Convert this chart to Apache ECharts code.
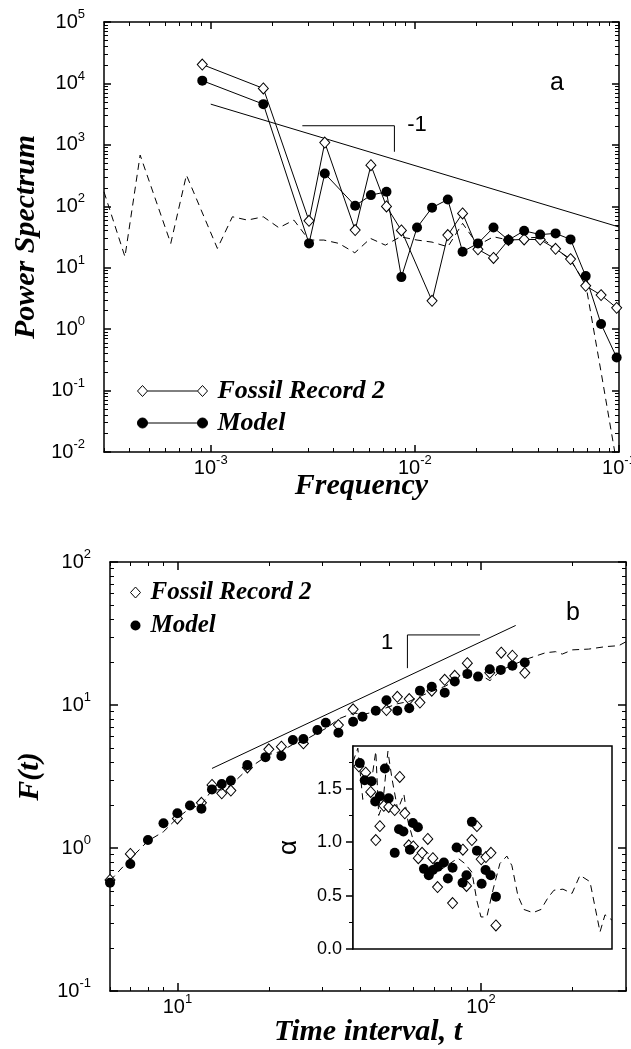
<!DOCTYPE html>
<html lang="en">
<head>
<meta charset="UTF-8">
<title>Power spectrum and F(t)</title>
<style>
    * {
        margin: 0;
        padding: 0;
        box-sizing: border-box;
    }

    html,
    body {
        background: #fff;
    }

    #chart {
        width: 631px;
        height: 1049px;
    }
</style>
</head>
<body>
<div id="chart"></div>
<script src="https://cdn.jsdelivr.net/npm/echarts@6/dist/echarts.min.js"></script>
<script>
    // ---- panel a : power spectrum ----
    const freqA = [9.09e-4, 1.81e-3, 3.03e-3, 3.62e-3, 5.10e-3, 6.09e-3, 7.26e-3, 8.59e-3, 1.025e-2, 1.214e-2, 1.45e-2,
        1.713e-2, 2.037e-2, 2.428e-2, 2.875e-2, 3.43e-2, 4.11e-2, 4.89e-2, 5.79e-2, 6.87e-2, 8.17e-2, 9.74e-2];
    const modelPower = [1.11e4, 4.6e3, 24.9, 341, 102, 152, 172, 7.03, 45, 95, 129,
        18.2, 24.9, 45, 28.2, 39.9, 34.6, 36.2, 28.9, 7.3, 1.21, 0.346];
    const fossilFreqA = [9.09e-4, 1.81e-3, 3.03e-3, 3.62e-3, 5.10e-3, 6.09e-3, 7.26e-3, 8.59e-3, 1.214e-2, 1.45e-2,
        1.713e-2, 2.037e-2, 2.428e-2, 2.875e-2, 3.43e-2, 4.11e-2, 4.89e-2, 5.79e-2, 6.87e-2, 8.17e-2, 9.74e-2];
    const fossilPower = [2.03e4, 8.3e3, 58, 1090, 41, 466, 99.6, 40.5, 2.89, 34,
        76.6, 19.9, 14.4, 28.2, 28.9, 28.7, 20.3, 13.8, 5.07, 3.58, 2.22];
    const dashFreqA = [3.0e-4, 3.80e-4, 4.51e-4, 6.37e-4, 7.60e-4, 1.078e-3, 1.277e-3, 1.512e-3, 1.81e-3, 2.158e-3,
        2.555e-3, 3.03e-3, 3.58e-3, 4.24e-3, 5.08e-3, 6.06e-3, 7.17e-3, 8.49e-3, 1.025e-2, 1.214e-2, 1.45e-2,
        1.713e-2, 2.037e-2, 2.428e-2, 2.875e-2, 3.43e-2, 4.11e-2, 4.89e-2, 5.79e-2, 6.87e-2, 8.17e-2, 9.74e-2];
    const dashPowerA = [172, 15.1, 682, 24.9, 322, 20.6, 67.5, 59.6, 67.5, 44.7,
        59.6, 28.2, 28.2, 24.9, 17.5, 30, 23.3, 31.9, 28.2, 26.1, 21.9,
        52.7, 23.3, 31.9, 28.2, 30.3, 31.5, 20.6, 13.3, 5.4, 0.2, 0.0066];
    const fitFreqA = [1e-3, 1e-1];
    const fitPowerA = [4600, 46];
    const bracketFreqA = [2.81e-3, 7.94e-3, 7.94e-3];
    const bracketPowerA = [2047, 2047, 772];

    // ---- panel b : F(t) ----
    const modelT = [6, 7, 8, 9, 10, 11, 12, 13, 14, 15, 17, 19.5, 22, 24, 26, 28.9, 30.8, 33.9, 37.9, 40.7,
        45, 48.8, 53, 58, 62.9, 68.8, 75.9, 81.9, 90.1, 97.7, 106.8, 116.1, 126.8, 139.3];
    const modelF = [0.572, 0.773, 1.138, 1.49, 1.75, 1.98, 1.88, 2.57, 2.80, 2.96, 3.80, 4.32, 4.40, 5.69, 5.78, 6.69, 7.52, 6.40, 7.64, 8.28,
        9.12, 10.8, 9.12, 9.48, 12.6, 13.4, 12.2, 14.6, 16.5, 15.8, 17.8, 17.6, 18.8, 19.8];
    const fossilT = [6, 7, 10, 12, 13, 14, 15, 17, 20, 22, 26, 33.9, 37.9, 48.8, 53, 58, 62.9, 68.8, 75.9, 81.9,
        90.1, 106.8, 116.5, 126.8, 139.3];
    const fossilF = [0.598, 0.908, 1.61, 2.07, 2.76, 2.41, 2.52, 3.66, 4.90, 5.11, 5.39, 7.24, 9.33, 9.22, 11.4, 11.0, 10.4, 12.6, 15.0, 16.0,
        19.6, 16.8, 23.2, 22.1, 16.8];
    const dashT = [6, 7, 8, 9, 10, 11, 12, 13, 14, 15, 17, 20, 22, 24, 26, 29, 31, 34, 38, 41, 45, 49, 53, 58, 63,
        69, 76, 82, 90, 98, 107, 116, 127, 139, 163, 176, 185, 200, 226, 257, 284, 300];
    const dashF = [0.59, 0.84, 1.12, 1.30, 1.62, 1.90, 2.00, 2.55, 2.55, 2.75, 3.55, 4.50, 4.75, 5.30, 5.60, 6.40, 6.90, 8.0, 8.8, 8.6,
        9.0, 9.6, 10.2, 10.6, 11.5, 12.5, 13.5, 14.8, 16.0, 16.5, 14.8, 17.5, 19.0, 20.7, 23.2, 23.6, 22.7, 24.3, 24.6, 25.6, 26.0, 27.7];
    const fitT = [13, 130];
    const fitF = [3.6, 36];
    const bracketT = [57.2, 57.2, 99.2];
    const bracketF = [18.1, 30.9, 30.9];

    // ---- inset : alpha ----
    const insetModelT = [39.7, 41.2, 43.4, 44.6, 46.2, 48.0, 49.4, 51.7, 53.4, 55.2, 58.0, 59.3, 61.6, 64.5, 66.9,
        69.0, 71.7, 75.0, 77.3, 80.1, 82.6, 86.4, 89.0, 92.7, 96.3, 99.8, 102.8, 106.8, 111.2];
    const insetModelA = [1.74, 1.58, 1.57, 1.38, 1.43, 1.69, 1.41, 0.90, 1.12, 1.10, 0.93, 1.18, 1.14, 0.75, 0.69,
        0.74, 0.77, 0.81, 0.66, 0.76, 0.95, 0.62, 0.69, 1.19, 0.92, 0.61, 0.74, 0.69, 0.49];
    const insetFossilT = [39.4, 41.5, 43.1, 44.8, 46.2, 47.6, 49.4, 51.7, 53.7, 55.8, 57.5, 59.5, 61.8, 63.6, 66.4,
        69.0, 71.5, 80.1, 86.6, 89.0, 92.7, 96.3, 99.5, 103.1, 107.1, 111.2];
    const insetFossilA = [1.71, 1.65, 1.47, 1.02, 1.15, 1.34, 1.33, 1.30, 1.61, 1.27, 0.97, 0.96, 0.85, 0.90, 1.03,
        0.85, 0.58, 0.43, 0.93, 0.59, 1.02, 1.15, 0.84, 0.86, 0.90, 0.22];
    const insetDashT = [37.7, 39.1, 40.6, 42.2, 43.5, 44.8, 45.8, 47.2, 49.1, 50.6, 52.9, 55.4, 57.1, 59.7, 62.5,
        66.4, 70.0, 73.9, 78.5, 83.4, 87.9, 92.7, 96.3, 99.3, 103.8, 108.7, 114.6, 120.8, 125.5, 131.3,
        137.4, 147.2, 156.4, 164.9, 172.5, 184.7, 197.8, 210.1, 226.6, 244.5, 253.9, 267.7];
    const insetDashA = [1.75, 1.88, 1.40, 1.45, 1.60, 1.85, 1.25, 1.35, 1.85, 1.60, 1.30, 1.45, 1.20, 1.00, 0.95,
        0.90, 0.80, 0.75, 0.80, 0.85, 0.80, 0.72, 0.45, 0.30, 0.30, 0.55, 0.80, 0.87, 0.78, 0.50,
        0.37, 0.34, 0.37, 0.48, 0.55, 0.56, 0.52, 0.69, 0.63, 0.16, 0.32, 0.27];
    const alphaTicks = [0, 0.5, 1, 1.5];
    const alphaMinor = [0.25, 0.75, 1.25, 1.75];

    const SANS = 'Liberation Sans';
    const SERIF = 'Liberation Serif';

    const zip = (xs, ys) => xs.map((x, i) => [x, ys[i]]);

    // powers of ten and the 2..9 steps between them
    function decades(lo, hi) {
        const out = [];
        for (let k = Math.ceil(Math.log10(lo) - 1e-9); k <= Math.floor(Math.log10(hi) + 1e-9); k++) out.push(Math.pow(10, k));
        return out;
    }
    function minors(lo, hi) {
        const out = [];
        for (let k = Math.floor(Math.log10(lo)); k <= Math.ceil(Math.log10(hi)); k++) {
            for (let m = 2; m <= 9; m++) {
                const v = +(m * Math.pow(10, k)).toPrecision(6);
                if (v >= lo * 0.999 && v <= hi * 1.001) out.push(v);
            }
        }
        return out;
    }

    const powRich = {
        b: { fontSize: 20, fontFamily: SANS, color: '#000' },
        s: { fontSize: 13, fontFamily: SANS, color: '#000', padding: [0, 0, 15, 0] }
    };
    const powLabel = v => '{b|10}{s|' + Math.round(Math.log10(v)) + '}';
    const nameStyle = { fontFamily: SERIF, fontWeight: 'bold', fontStyle: 'italic', fontSize: 30, color: '#000' };

    // one axis with the long ticks (and line, labels), one with the short ones
    function axisPair(o) {
        const base = {
            gridIndex: o.grid, type: o.type || 'log', position: o.position, min: o.min, max: o.max,
            splitLine: { show: false }, silent: true, nameMoveOverlap: false
        };
        const major = Object.assign({}, base, {
            axisLine: { show: o.line !== false, onZero: false, lineStyle: { color: '#000', width: 1.5 } },
            axisTick: { show: true, inside: o.inside, length: o.majorLen, customValues: o.major, lineStyle: { color: '#000', width: 1.5 } },
            axisLabel: o.label ? Object.assign({ customValues: o.major }, o.label) : { show: false }
        });
        if (o.name) {
            major.name = o.name;
            major.nameLocation = 'middle';
            major.nameGap = o.nameGap;
            major.nameTextStyle = o.nameStyle || nameStyle;
        }
        const minor = Object.assign({}, base, {
            axisLine: { show: false, onZero: false },
            axisTick: { show: true, inside: o.inside, length: o.minorLen, customValues: o.minor, lineStyle: { color: '#000', width: 1 } },
            axisLabel: { show: false }
        });
        return [major, minor];
    }

    const xLab = { margin: 2, fontSize: 20, fontFamily: SANS, color: '#000', formatter: powLabel, rich: powRich };
    const yLab = { margin: 19, fontSize: 20, fontFamily: SANS, color: '#000', formatter: powLabel, rich: powRich };

    const aX = { grid: 0, min: 3e-4, max: 0.1, inside: true, majorLen: 7, minorLen: 4 };
    aX.major = decades(aX.min, aX.max); aX.minor = minors(aX.min, aX.max);
    const aY = { grid: 0, min: 1e-2, max: 1e5, inside: true, majorLen: 7, minorLen: 4 };
    aY.major = decades(aY.min, aY.max); aY.minor = minors(aY.min, aY.max);
    const bX = { grid: 1, min: 6, max: 300, inside: true, majorLen: 8, minorLen: 4 };
    bX.major = decades(bX.min, bX.max); bX.minor = minors(bX.min, bX.max);
    const bY = { grid: 1, min: 0.1, max: 100, inside: true, majorLen: 8, minorLen: 4 };
    bY.major = decades(bY.min, bY.max); bY.minor = minors(bY.min, bY.max);

    const xAxis = [].concat(
        axisPair(Object.assign({}, aX, { position: 'bottom', label: xLab, name: 'Frequency', nameGap: 19 })),   // 0,1
        axisPair(Object.assign({}, aX, { position: 'top' })),                                                   // 2,3
        axisPair(Object.assign({}, bX, { position: 'bottom', label: xLab, name: 'Time interval, t', nameGap: 26 })), // 4,5
        axisPair(Object.assign({}, bX, { position: 'top' })),                                                   // 6,7
        [{
            gridIndex: 2, type: 'log', min: 37.7, max: 267.7, position: 'bottom',
            axisLine: { show: false, onZero: false }, axisTick: { show: false }, axisLabel: { show: false },
            splitLine: { show: false }, silent: true
        }]                                                                                                       // 8
    );
    const yAxis = [].concat(
        axisPair(Object.assign({}, aY, { position: 'left', label: yLab, name: 'Power Spectrum', nameGap: 63 })), // 0,1
        axisPair(Object.assign({}, aY, { position: 'right' })),                                                 // 2,3
        axisPair(Object.assign({}, bY, { position: 'left', label: yLab, name: 'F(t)', nameGap: 65 })),          // 4,5
        axisPair(Object.assign({}, bY, { position: 'right' })),                                                 // 6,7
        axisPair({
            grid: 2, type: 'value', position: 'left', min: 0, max: 1.9, inside: false, majorLen: 7, minorLen: 4,
            major: alphaTicks, minor: alphaMinor,
            label: { margin: 11, fontSize: 18, fontFamily: SANS, color: '#000', formatter: v => v.toFixed(1) },
            name: 'α', nameGap: 51, nameStyle: { fontFamily: SANS, fontSize: 26, color: '#000' }
        })                                                                                                       // 8,9
    );

    const black = '#000';
    const dashLine = { color: black, width: 1, type: [7, 5] };
    const thin = { color: black, width: 1 };
    const diamondStyle = { color: '#fff', borderColor: black, borderWidth: 1, opacity: 1 };
    const dotStyle = { color: black, opacity: 1 };

    const series = [
        // panel a
        { type: 'line', xAxisIndex: 0, yAxisIndex: 0, data: zip(dashFreqA, dashPowerA), symbol: 'none', lineStyle: dashLine, silent: true },
        { type: 'line', xAxisIndex: 0, yAxisIndex: 0, data: zip(fitFreqA, fitPowerA), symbol: 'none', lineStyle: thin, silent: true },
        { type: 'line', xAxisIndex: 0, yAxisIndex: 0, data: zip(bracketFreqA, bracketPowerA), symbol: 'none', lineStyle: thin, silent: true },
        {
            name: 'Fossil Record 2', type: 'line', xAxisIndex: 0, yAxisIndex: 0, data: zip(fossilFreqA, fossilPower),
            symbol: 'diamond', symbolSize: [10, 11], itemStyle: diamondStyle, lineStyle: thin
        },
        {
            name: 'Model', type: 'line', xAxisIndex: 0, yAxisIndex: 0, data: zip(freqA, modelPower),
            symbol: 'circle', symbolSize: 10, itemStyle: dotStyle, lineStyle: thin
        },
        // panel b
        { type: 'line', xAxisIndex: 4, yAxisIndex: 4, data: zip(dashT, dashF), symbol: 'none', lineStyle: dashLine, silent: true },
        { type: 'line', xAxisIndex: 4, yAxisIndex: 4, data: zip(fitT, fitF), symbol: 'none', lineStyle: thin, silent: true },
        { type: 'line', xAxisIndex: 4, yAxisIndex: 4, data: zip(bracketT, bracketF), symbol: 'none', lineStyle: thin, silent: true },
        {
            name: 'Fossil Record 2', type: 'scatter', xAxisIndex: 4, yAxisIndex: 4, data: zip(fossilT, fossilF),
            symbol: 'diamond', symbolSize: [10, 11], itemStyle: diamondStyle
        },
        {
            name: 'Model', type: 'scatter', xAxisIndex: 4, yAxisIndex: 4, data: zip(modelT, modelF),
            symbol: 'circle', symbolSize: 10, itemStyle: dotStyle
        },
        // inset
        { type: 'line', xAxisIndex: 8, yAxisIndex: 8, data: zip(insetDashT, insetDashA), symbol: 'none', lineStyle: dashLine, silent: true, z: 5 },
        {
            name: 'Fossil Record 2', type: 'scatter', xAxisIndex: 8, yAxisIndex: 8, data: zip(insetFossilT, insetFossilA),
            symbol: 'diamond', symbolSize: [10, 11], itemStyle: diamondStyle, z: 5
        },
        {
            name: 'Model', type: 'scatter', xAxisIndex: 8, yAxisIndex: 8, data: zip(insetModelT, insetModelA),
            symbol: 'circle', symbolSize: 10, itemStyle: dotStyle, z: 5
        }
    ];

    const legendText = { fontFamily: SERIF, fontWeight: 'bold', fontStyle: 'italic', color: black, padding: [0, 0, 0, 5] };
    const fossilIcon = 'path://M1,6L6,0.5L11,6L6,11.5Z M11,6L61,6 M61,6L66,0.5L71,6L66,11.5Z';
    const modelIcon = 'path://M1,6A5,5,0,1,1,11,6A5,5,0,1,1,1,6Z M11,6L61,6 M61,6A5,5,0,1,1,71,6A5,5,0,1,1,61,6Z';

    const option = {
        animation: false,
        backgroundColor: '#fff',
        grid: [
            { left: 104, top: 22, width: 515, height: 430, outerBoundsMode: 'none' },
            { left: 110, top: 562, width: 516, height: 429, outerBoundsMode: 'none' },
            {
                left: 353, top: 746, width: 259, height: 203, outerBoundsMode: 'none', z: 3,
                show: true, backgroundColor: '#fff', borderColor: black, borderWidth: 1.5
            }
        ],
        xAxis: xAxis,
        yAxis: yAxis,
        legend: [
            {
                orient: 'vertical', left: 137, top: 378, padding: 0, itemGap: 6, itemWidth: 70, itemHeight: 11,
                selectedMode: false, textStyle: Object.assign({ fontSize: 26 }, legendText),
                data: [
                    { name: 'Fossil Record 2', icon: fossilIcon, itemStyle: { color: '#fff', borderColor: black, borderWidth: 1 } },
                    { name: 'Model', icon: modelIcon, itemStyle: { color: black, borderColor: black, borderWidth: 1 } }
                ]
            },
            {
                orient: 'vertical', left: 130, top: 580, padding: 0, itemGap: 8, itemWidth: 10, itemHeight: 11,
                selectedMode: false, textStyle: Object.assign({ fontSize: 25 }, legendText),
                data: [
                    { name: 'Fossil Record 2', icon: 'diamond', itemStyle: { color: '#fff', borderColor: black, borderWidth: 1 } },
                    { name: 'Model', icon: 'circle', itemStyle: { color: black, borderColor: black, borderWidth: 0, opacity: 1 } }
                ]
            }
        ],
        graphic: [
            { type: 'text', x: 557, y: 83, style: { text: 'a', font: '25px "Liberation Sans"', fill: black, align: 'center', verticalAlign: 'middle' } },
            { type: 'text', x: 417, y: 125, style: { text: '-1', font: '22px "Liberation Sans"', fill: black, align: 'center', verticalAlign: 'middle' } },
            { type: 'text', x: 573, y: 613, style: { text: 'b', font: '25px "Liberation Sans"', fill: black, align: 'center', verticalAlign: 'middle' } },
            { type: 'text', x: 387, y: 643, style: { text: '1', font: '22px "Liberation Sans"', fill: black, align: 'center', verticalAlign: 'middle' } }
        ],
        series: series
    };

    const chart = echarts.init(document.getElementById('chart'), null, { renderer: 'canvas' });
    chart.setOption(option);
</script>
</body>
</html>
